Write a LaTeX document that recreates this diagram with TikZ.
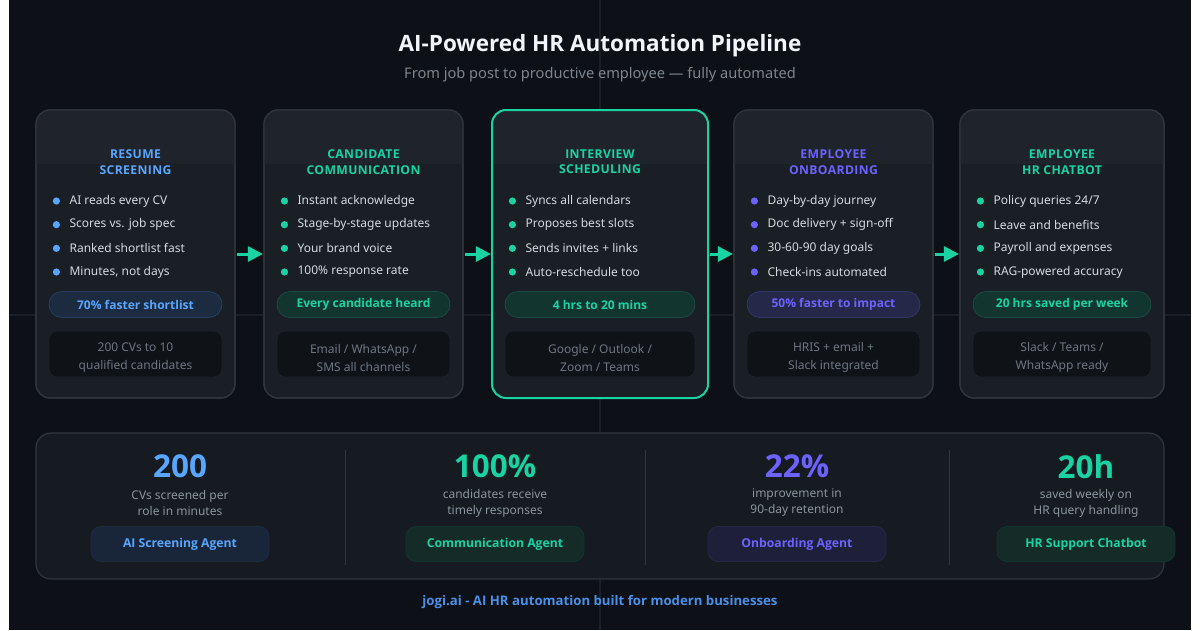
\documentclass[tikz,border=0pt]{standalone}
\usepackage{fontspec}
\setmainfont{Noto Sans}
\newfontfamily\osans{Open Sans}
\newfontfamily\hdrfont{Open Sans}[LetterSpace=3]
\newcommand\bsf{\osans\bfseries}
\usetikzlibrary{arrows.meta}
\definecolor{bgc}{HTML}{0D1117}
\definecolor{gridc}{HTML}{1A1F27}
\definecolor{cardc}{HTML}{1A1E25}
\definecolor{hdrc}{HTML}{1F232B}
\definecolor{borderc}{HTML}{30363D}
\definecolor{footc}{HTML}{0F1318}
\definecolor{footb}{HTML}{1E232A}
\definecolor{titlec}{HTML}{F0F6FC}
\definecolor{subc}{HTML}{7D8590}
\definecolor{bulc}{HTML}{D4DAE0}
\definecolor{dimc}{HTML}{6E7681}
\definecolor{descc}{HTML}{8B949E}
\definecolor{blueA}{HTML}{58A6FF}
\definecolor{tealA}{HTML}{19D3A2}
\definecolor{purpA}{HTML}{6C63FF}
\definecolor{blueF}{HTML}{1C2B3F}
\definecolor{blueB}{HTML}{25405F}
\definecolor{tealF}{HTML}{12352F}
\definecolor{tealB}{HTML}{1B4A41}
\definecolor{purpF}{HTML}{252849}
\definecolor{purpB}{HTML}{32356A}
\definecolor{bluePF}{HTML}{19263A}
\definecolor{tealPF}{HTML}{142B28}
\definecolor{purpPF}{HTML}{1E2039}
\definecolor{panelc}{HTML}{161A21}
\definecolor{footlink}{HTML}{4A90E8}
\tikzset{
  cardbox/.style={draw=borderc, line width=1.2pt, fill=cardc, rounded corners=14pt, minimum height=288pt, inner sep=0pt},
  hlbox/.style={draw=tealA, line width=2pt, rounded corners=14pt, minimum height=288pt, inner sep=0pt},
  hdrtext/.style={font=\hdrfont\bfseries\fontsize{12.2}{15.5}\selectfont, align=center},
  bultext/.style={font=\fontsize{12}{14}\selectfont, text=bulc, anchor=west, inner sep=0pt},
  badgebox/.style={rounded corners=13pt, minimum height=26pt, line width=0.8pt, font=\bsf\fontsize{12}{14}\selectfont, inner sep=0pt},
  footbox/.style={fill=footc, draw=footb, line width=0.8pt, rounded corners=8pt, minimum height=46pt, inner sep=0pt},
  foottext/.style={font=\fontsize{12}{18}\selectfont, text=dimc, align=center, inner sep=0pt},
  flowarrow/.style={draw=tealA, line width=3pt, -{Triangle[length=15pt,width=15pt]}, shorten <=1.5pt, shorten >=0.5pt},
  bignum/.style={font=\bsf\fontsize{31.5}{35}\selectfont},
  desctext/.style={font=\fontsize{12}{16}\selectfont, text=descc, align=center},
  agentpill/.style={rounded corners=10pt, minimum width=178pt, minimum height=35pt, line width=0.8pt, font=\bsf\fontsize{12.2}{14}\selectfont, inner sep=0pt},
  divline/.style={draw=borderc, line width=1pt}
}
% #1 name, #2 center x, #3 width, #4 colour, #5 title, #6 bullets, #7 badge text, #8 footer text, #9 badge colour prefix
\newcommand\stagecard[9]{%
  \node[cardbox, minimum width=#3] (#1) at (#2,254) {};
  \begin{scope}
    \clip[rounded corners=14pt] (#1.north west) rectangle (#1.south east);
    \fill[hdrc] (#1.north west) rectangle ([yshift=-55pt]#1.north east);
  \end{scope}
  \node[cardbox, fill=none, minimum width=#3] at (#2,254) {};
  \node[hdrtext, text=#4] (#1-t) at ([yshift=-52.5pt]#1.north) {#5};
  \foreach \btxt [count=\bi] in {#6} {
    \pgfmathsetmacro\by{201+23.67*(\bi-1)}
    \fill[#4] ([xshift=21pt]#1.west |- 0,\by) circle (3.6pt);
    \node[bultext] (#1-b\bi) at ([xshift=34pt]#1.west |- 0,\by) {\btxt};
  }
  \node[badgebox, minimum width=#3-26pt, fill=#9F, draw=#9B, text=#4] (#1-bd) at (#2,304.5) {#7};
  \node[footbox, minimum width=#3-26pt] (#1-ft) at (#2,354) {};
  \node[foottext] (#1-ftt) at (#2,357.5) {#8};
}
\begin{document}
\begin{tikzpicture}[x=1pt,y=-1pt]
\useasboundingbox (0,0) rectangle (1200,630);
\fill[white] (0,0) rectangle (1200,630);
\fill[bgc] (9,0) rectangle (1191,630);
\draw[gridc, line width=1.2pt] (600,0) -- (600,630);
\draw[gridc, line width=1.2pt] (9,315) -- (1191,315);

\node[font=\bsf\fontsize{22.5}{26}\selectfont, text=titlec] (title) at (600,45.5) {AI-Powered HR Automation Pipeline};
\node[font=\fontsize{14.6}{17}\selectfont, text=subc] (subtitle) at (600,74.5) {From job post to productive employee — fully automated};

\stagecard{c1}{135.5}{199pt}{blueA}{RESUME\\SCREENING}{AI reads every CV, Scores vs. job spec, Ranked shortlist fast, {Minutes, not days}}{70\% faster shortlist}{200 CVs to 10\\qualified candidates}{blue}
\stagecard{c2}{363.5}{199pt}{tealA}{CANDIDATE\\COMMUNICATION}{Instant acknowledge, Stage-by-stage updates, Your brand voice, 100\% response rate}{Every candidate heard}{Email / WhatsApp /\\SMS all channels}{teal}
\stagecard{c3}{600}{216pt}{tealA}{INTERVIEW\\SCHEDULING}{Syncs all calendars, Proposes best slots, Sends invites + links, Auto-reschedule too}{4 hrs to 20 mins}{Google / Outlook /\\Zoom / Teams}{teal}
\node[hlbox, minimum width=216pt] (c3hl) at (600,254) {};
\stagecard{c4}{833.5}{199pt}{purpA}{EMPLOYEE\\ONBOARDING}{Day-by-day journey, Doc delivery + sign-off, 30-60-90 day goals, Check-ins automated}{50\% faster to impact}{HRIS + email +\\Slack integrated}{purp}
\stagecard{c5}{1062}{204pt}{tealA}{EMPLOYEE\\HR CHATBOT}{Policy queries 24/7, Leave and benefits, Payroll and expenses, RAG-powered accuracy}{20 hrs saved per week}{Slack / Teams /\\WhatsApp ready}{teal}

\draw[flowarrow] (c1.east) -- (c2.west);
\draw[flowarrow] (c2.east) -- (c3.west);
\draw[flowarrow] (c3.east) -- (c4.west);
\draw[flowarrow] (c4.east) -- (c5.west);

\node[draw=borderc, line width=1.2pt, fill=panelc, rounded corners=15pt, minimum width=1128pt, minimum height=146pt, inner sep=0pt] (panel) at (600,506) {};
\coordinate (d1t) at (345,450); \coordinate (d1b) at (345,565);
\coordinate (d2t) at (645,450); \coordinate (d2b) at (645,565);
\coordinate (d3t) at (949,450); \coordinate (d3b) at (949,565);
\draw[divline] (d1t) -- (d1b);
\draw[divline] (d2t) -- (d2b);
\draw[divline] (d3t) -- (d3b);

\node[bignum, text=blueA] (n1) at (180,466.5) {200};
\node[desctext] (t1) at (180,503) {CVs screened per\\role in minutes};
\node[agentpill, fill=bluePF, draw=blueF, text=blueA] (p1) at (180,544) {AI Screening Agent};

\node[bignum, text=tealA] (n2) at (495,466.5) {100\%};
\node[desctext] (t2) at (495,503) {candidates receive\\timely responses};
\node[agentpill, fill=tealPF, draw=tealF, text=tealA] (p2) at (495,544) {Communication Agent};

\node[bignum, text=purpA] (n3) at (797,466.5) {22\%};
\node[desctext] (t3) at (797,503) {improvement in\\90-day retention};
\node[agentpill, fill=purpPF, draw=purpF, text=purpA] (p3) at (797,544) {Onboarding Agent};

\node[bignum, text=tealA] (n4) at (1086,466.5) {20h};
\node[desctext] (t4) at (1086,503) {saved weekly on\\HR query handling};
\node[agentpill, fill=tealPF, draw=tealF, text=tealA] (p4) at (1086,544) {HR Support Chatbot};

\node[font=\bsf\fontsize{13.2}{15}\selectfont, text=footlink] (foot) at (600,602) {jogi.ai - AI HR automation built for modern businesses};
\end{tikzpicture}
\end{document}
